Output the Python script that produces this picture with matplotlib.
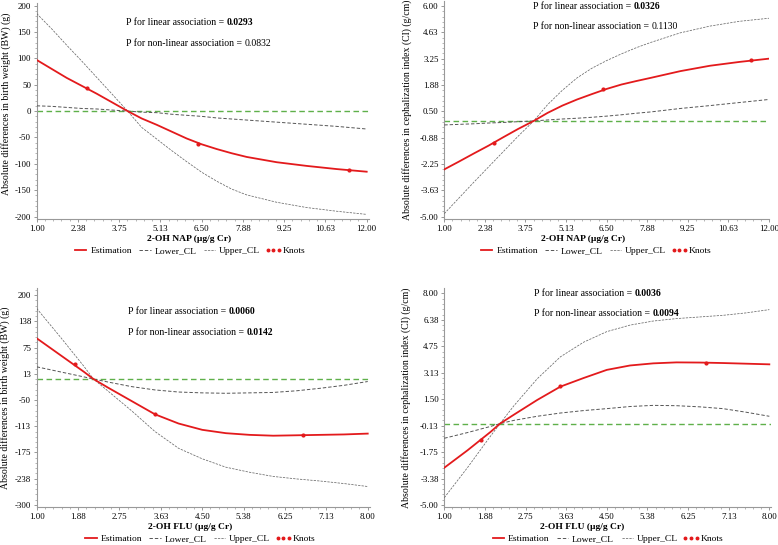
import numpy as np
import matplotlib
matplotlib.use('Agg')
import matplotlib.pyplot as plt
from matplotlib.ticker import AutoMinorLocator

plt.rcParams['font.family'] = ['Liberation Serif', 'DejaVu Serif']

W, H = 778, 545

# ---- 2-OH NAP vs birth weight ----
nap_x = [1.0, 1.5, 2.0, 2.5, 3.0, 3.5, 4.03, 4.5, 5.0, 5.5, 6.0, 6.5, 7.0, 7.5, 8.0, 9.0, 10.0, 11.0, 12.0]
bw_nap_est = [97, 80, 63, 48, 33, 17, 0, -14, -26, -39, -52, -63, -72, -80, -87, -97, -104, -110, -115]
bw_nap_cl_a = [185, 156, 125, 95, 64, 33, 0, -31, -53, -75, -96, -116, -133, -148, -159, -173, -183, -190, -196]
bw_nap_cl_b = [10, 9, 7, 5, 4, 2, 0, -2, -3, -6, -8, -10, -13, -15, -17, -21, -25, -29, -34]
bw_nap_knot_x = [2.67, 6.37, 11.40]
bw_nap_knot_y = [43, -62, -112]

# ---- 2-OH NAP vs cephalization index ----
ci_nap_est = [-2.53, -2.12, -1.70, -1.29, -0.85, -0.42, 0.0, 0.42, 0.80, 1.12, 1.40, 1.67, 1.90, 2.08, 2.25, 2.60, 2.88, 3.08, 3.25]
ci_nap_cl_a = [-4.84, -4.02, -3.20, -2.40, -1.60, -0.80, 0.0, 0.85, 1.60, 2.25, 2.75, 3.15, 3.50, 3.82, 4.10, 4.60, 4.95, 5.20, 5.36]
ci_nap_cl_b = [-0.21, -0.18, -0.15, -0.11, -0.08, -0.04, 0.0, 0.05, 0.10, 0.14, 0.19, 0.25, 0.32, 0.40, 0.47, 0.65, 0.80, 0.96, 1.12]
ci_nap_knot_y = [-1.14, 1.65, 3.16]

# ---- 2-OH FLU vs birth weight ----
flu_x = [1.0, 1.5, 2.0, 2.2, 2.5, 3.0, 3.5, 4.0, 4.5, 5.0, 5.5, 6.0, 6.5, 7.0, 7.5, 8.0]
bw_flu_est = [97, 57, 17, 0, -20, -52, -84, -106, -121, -129, -133, -135, -134, -133, -132, -130]
bw_flu_cl_a = [168, 100, 30, 0, -28, -75, -125, -165, -190, -210, -222, -232, -238, -243, -249, -256]
bw_flu_cl_b = [29, 17, 5, 0, -7, -18, -26, -31, -33, -34, -33, -32, -28, -22, -15, -6]
flu_knot_x = [1.80, 3.50, 6.63]
bw_flu_knot_y = [35, -84, -134]

# ---- 2-OH FLU vs cephalization index ----
ci_flu_est = [-2.71, -1.64, -0.50, 0.0, 0.55, 1.45, 2.27, 2.80, 3.30, 3.57, 3.70, 3.76, 3.75, 3.72, 3.68, 3.64]
ci_flu_cl_a = [-4.55, -2.70, -0.75, 0.0, 1.10, 2.75, 4.10, 5.00, 5.65, 6.05, 6.30, 6.45, 6.55, 6.65, 6.80, 7.00]
ci_flu_cl_b = [-0.90, -0.55, -0.17, 0.0, 0.20, 0.45, 0.65, 0.80, 0.92, 1.05, 1.12, 1.10, 1.03, 0.92, 0.70, 0.45]
ci_flu_knot_y = [-1.0, 2.31, 3.75]

nap_ticks = ['1.00', '2.38', '3.75', '5.13', '6.50', '7.88', '9.25', '10.63', '12.00']
flu_ticks = ['1.00', '1.88', '2.75', '3.63', '4.50', '5.38', '6.25', '7.13', '8.00']
bw_nap_yticks = ['-200', '-150', '-100', '-50', '0', '50', '100', '150', '200']
ci_nap_yticks = ['-5.00', '-3.63', '-2.25', '-0.88', '0.50', '1.88', '3.25', '4.63', '6.00']
bw_flu_yticks = ['-300', '-238', '-175', '-113', '-50', '13', '75', '138', '200']
ci_flu_yticks = ['-5.00', '-3.38', '-1.75', '-0.13', '1.50', '3.13', '4.75', '6.38', '8.00']

BW_LABEL = 'Absolute differences in birth weight (BW) (g)'
CI_LABEL = 'Absolute differences in cephalization index (CI) (g/cm)'

panels = [
    dict(box=(36.7, 3.3, 369, 219.3), xlim=(1, 12.077), ylim=(-205.3, 204.5),
         x=nap_x, est=bw_nap_est, a=bw_nap_cl_a, b=bw_nap_cl_b,
         kx=bw_nap_knot_x, ky=bw_nap_knot_y, xt=nap_ticks, yt=bw_nap_yticks,
         ylabel=BW_LABEL, xlabel='2-OH NAP (µg/g Cr)',
         p=('0.0293', True, '0.0832', False), ptxt=(0.269, 0.91, 0.815),
         ylx=-0.092, yly=0.535, xlx=0.458, leg=(0.458, -0.147)),
    dict(box=(444.3, 1, 769, 219.3), xlim=(1, 12.0), ylim=(-5.136, 6.26),
         x=nap_x, est=ci_nap_est, a=ci_nap_cl_a, b=ci_nap_cl_b,
         kx=bw_nap_knot_x, ky=ci_nap_knot_y, xt=nap_ticks, yt=ci_nap_yticks,
         ylabel=CI_LABEL, xlabel='2-OH NAP (µg/g Cr)',
         p=('0.0326', True, '0.1130', False), ptxt=(0.274, 0.975, 0.885),
         ylx=-0.115, yly=0.5, xlx=0.428, leg=(0.464, -0.145)),
    dict(box=(36.7, 288.3, 370, 507.3), xlim=(1, 8.048), ylim=(-305.5, 216),
         x=flu_x, est=bw_flu_est, a=bw_flu_cl_a, b=bw_flu_cl_b,
         kx=flu_knot_x, ky=bw_flu_knot_y, xt=flu_ticks, yt=bw_flu_yticks,
         ylabel=BW_LABEL, xlabel='2-OH FLU (µg/g Cr)',
         p=('0.0060', True, '0.0142', True), ptxt=(0.275, 0.893, 0.80),
         ylx=-0.095, yly=0.5, xlx=0.46, leg=(0.487, -0.145)),
    dict(box=(444.3, 288.3, 771, 507.3), xlim=(1, 8.036), ylim=(-5.14, 8.31),
         x=flu_x, est=ci_flu_est, a=ci_flu_cl_a, b=ci_flu_cl_b,
         kx=flu_knot_x, ky=ci_flu_knot_y, xt=flu_ticks, yt=ci_flu_yticks,
         ylabel=CI_LABEL, xlabel='2-OH FLU (µg/g Cr)',
         p=('0.0036', True, '0.0094', True), ptxt=(0.2746, 0.977, 0.886),
         ylx=-0.118, yly=0.5, xlx=0.423, leg=(0.497, -0.145)),
]

RED = '#e31a1c'
fig = plt.figure(figsize=(W / 100, H / 100), dpi=100, facecolor='white')

for pn in panels:
    l, t, r, b = pn['box']
    ax = fig.add_axes([l / W, 1 - b / H, (r - l) / W, (b - t) / H])
    ax.axhline(0, color='#5fb04a', lw=1.0, ls=(0, (4, 2.5)), zorder=1)
    ax.plot(pn['x'], pn['est'], color=RED, lw=1.3, label='Estimation', zorder=4)
    ax.plot(pn['x'], pn['b'], color='#555555', lw=0.7, ls=(0, (3.5, 2)), label='Lower_CL', zorder=3)
    ax.plot(pn['x'], pn['a'], color='#6a6a6a', lw=0.55, ls=(0, (3, 1.5)), label='Upper_CL', zorder=3)
    ax.plot(pn['kx'], pn['ky'], ls='none', marker='o', ms=2.0, color=RED, label='Knots', zorder=5)

    ax.set_xlim(*pn['xlim'])
    ax.set_ylim(*pn['ylim'])
    lo, hi = float(pn['xt'][0]), float(pn['xt'][-1])
    ax.set_xticks(np.linspace(lo, hi, len(pn['xt'])))
    ax.set_xticklabels(pn['xt'])
    ylo, yhi = float(pn['yt'][0]), float(pn['yt'][-1])
    ax.set_yticks(np.linspace(ylo, yhi, len(pn['yt'])))
    ax.set_yticklabels(pn['yt'])
    ax.xaxis.set_minor_locator(AutoMinorLocator(5))
    ax.yaxis.set_minor_locator(AutoMinorLocator(5))
    ax.tick_params(which='major', length=2.5, width=0.6, color='#888888', labelsize=6.4, pad=1.5)
    ax.tick_params(which='minor', length=1.2, width=0.5, color='#999999')
    for s in ['top', 'right']:
        ax.spines[s].set_visible(False)
    for s in ['left', 'bottom']:
        ax.spines[s].set_color('#999999')
        ax.spines[s].set_linewidth(0.8)

    ax.set_ylabel(pn['ylabel'], fontsize=7.1)
    ax.yaxis.set_label_coords(pn['ylx'], pn['yly'])
    ax.yaxis.label.set_va('center')
    ax.set_xlabel(pn['xlabel'], fontsize=6.8, fontweight='bold')
    ax.xaxis.set_label_coords(pn['xlx'], -0.09)
    ax.xaxis.label.set_va('center')

    px, py1, py2 = pn['ptxt']
    v1, b1, v2, b2 = pn['p']
    t1 = ax.text(px, py1, 'P for linear association = ', transform=ax.transAxes,
                 fontsize=7, va='center', ha='left')
    ax.annotate(v1, xycoords=t1, xy=(1, 0.5), va='center', ha='left', fontsize=7,
                fontweight='bold' if b1 else 'normal')
    t2 = ax.text(px, py2, 'P for non-linear association = ', transform=ax.transAxes,
                 fontsize=7, va='center', ha='left')
    ax.annotate(v2, xycoords=t2, xy=(1, 0.5), va='center', ha='left', fontsize=7,
                fontweight='bold' if b2 else 'normal')

    ax.legend(loc='center', bbox_to_anchor=pn['leg'], ncol=4, frameon=False,
              fontsize=6.8, numpoints=3, markerscale=0.9, handlelength=1.8,
              handletextpad=0.1, columnspacing=0.5, borderpad=0)

fig.savefig('out.png', dpi=100, facecolor='white')
